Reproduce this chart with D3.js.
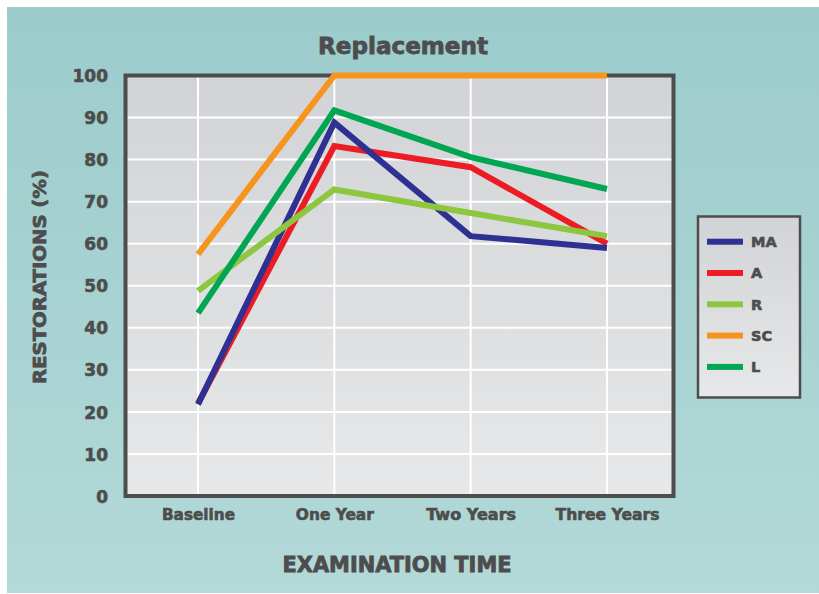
<!DOCTYPE html>
<html>
<head>
<meta charset="utf-8">
<script src="https://cdn.jsdelivr.net/npm/d3@7"></script>
<style>
  html, body { margin: 0; padding: 0; background: #ffffff; }
  svg { display: block; }
  text { font-family: "DejaVu Sans", "Liberation Sans", sans-serif; font-weight: bold; fill: #4d4d4d; stroke: #4d4d4d; stroke-width: 0.6px; }
</style>
</head>
<body>
<svg id="chart" width="819" height="594"></svg>
<script>
// ---- data ----
const categories = ["Baseline", "One Year", "Two Years", "Three Years"];
const seriesNames = ["MA", "A", "R", "SC", "L"];
const seriesColors = ["#2e3192", "#ed1c24", "#8dc63f", "#f7941d", "#00a651"];
const valuesMA = [21.8, 88.8, 61.8, 59];
const valuesA  = [22, 83.2, 78.2, 60];
const valuesR  = [48.8, 72.9, 67.3, 61.8];
const valuesSC = [57.5, 100, 100, 100];
const valuesL  = [43.5, 91.7, 80.6, 73];
const yTicks = [0, 10, 20, 30, 40, 50, 60, 70, 80, 90, 100];
const titleText = "Replacement";
const xTitle = "EXAMINATION TIME";
const yTitle = "RESTORATIONS (%)";

const seriesValues = [valuesMA, valuesA, valuesR, valuesSC, valuesL];
const series = seriesNames.map((n, i) => ({ name: n, color: seriesColors[i], values: seriesValues[i] }));

// ---- layout ----
const svg = d3.select("#chart");
const frame = { left: 125.5, right: 673.5 };
const x = d3.scalePoint().domain(categories).range([198, 607]);
const y = d3.scaleLinear().domain([0, 100]).range([496, 75.5]);

const defs = svg.append("defs");
const g1 = defs.append("linearGradient").attr("id", "bgGrad").attr("x1", 0).attr("y1", 0).attr("x2", 0).attr("y2", 1);
g1.append("stop").attr("offset", "0%").attr("stop-color", "#9bcccb");
g1.append("stop").attr("offset", "100%").attr("stop-color", "#b3d9d8");
const g2 = defs.append("linearGradient").attr("id", "plotGrad").attr("x1", 0).attr("y1", 0).attr("x2", 0).attr("y2", 1);
g2.append("stop").attr("offset", "0%").attr("stop-color", "#d1d3d6");
g2.append("stop").attr("offset", "100%").attr("stop-color", "#e7e8e9");

// outer panel
svg.append("rect").attr("x", 7).attr("y", 7).attr("width", 812).attr("height", 586).attr("fill", "url(#bgGrad)");

// plot background
svg.append("rect")
  .attr("x", frame.left).attr("y", y(100))
  .attr("width", frame.right - frame.left).attr("height", y(0) - y(100))
  .attr("fill", "url(#plotGrad)");

// gridlines
svg.append("g").selectAll("line.h").data(yTicks.filter(t => t > 0 && t < 100)).join("line")
  .attr("x1", frame.left).attr("x2", frame.right)
  .attr("y1", d => y(d)).attr("y2", d => y(d))
  .attr("stroke", "#ffffff").attr("stroke-width", 2);
svg.append("g").selectAll("line.v").data(categories).join("line")
  .attr("x1", d => x(d)).attr("x2", d => x(d))
  .attr("y1", y(100)).attr("y2", y(0))
  .attr("stroke", "#ffffff").attr("stroke-width", 2);

// frame
svg.append("rect")
  .attr("x", frame.left).attr("y", y(100))
  .attr("width", frame.right - frame.left).attr("height", y(0) - y(100))
  .attr("fill", "none").attr("stroke", "#4d4d4d").attr("stroke-width", 4);

// y axis labels
const yAxis = d3.axisLeft(y).tickValues(yTicks).tickSize(0).tickPadding(0);
const yg = svg.append("g").attr("transform", `translate(108,0)`).call(yAxis);
yg.select(".domain").remove();
yg.selectAll("text").attr("font-size", 17).attr("fill", "#4d4d4d")
  .style("font-family", '"DejaVu Sans", sans-serif').style("font-weight", "bold").attr("dy", "0.36em").attr("x", 0);

// x axis labels
const xAxis = d3.axisBottom(x).tickSize(0).tickPadding(0);
const xg = svg.append("g").attr("transform", `translate(0,509)`).call(xAxis);
xg.select(".domain").remove();
xg.selectAll("text").attr("font-size", 15).attr("fill", "#4d4d4d")
  .style("font-family", '"DejaVu Sans", sans-serif').style("font-weight", "bold").attr("dy", "0.71em").attr("y", 0);
xg.selectAll(".tick text").each(function(d) {
  const widths = { "Baseline": 73, "One Year": 78, "Two Years": 90, "Three Years": 104 };
  d3.select(this).attr("textLength", widths[d]).attr("lengthAdjust", "spacingAndGlyphs");
});

// lines
const line = d3.line().x((d, i) => x(categories[i])).y(d => y(d));
const drawOrder = ["A", "MA", "R", "L", "SC"];
svg.append("g").selectAll("path").data(drawOrder.map(n => series.find(s => s.name === n))).join("path")
  .attr("d", d => line(d.values))
  .attr("fill", "none").attr("stroke", d => d.color).attr("stroke-width", 6)
  .attr("stroke-linejoin", "miter").attr("stroke-linecap", "butt");

// title
svg.append("text").attr("x", 403).attr("y", 54).attr("text-anchor", "middle")
  .attr("font-size", 23).attr("textLength", 170).attr("lengthAdjust", "spacingAndGlyphs")
  .style("stroke-width", "0.8px")
  .text(titleText);

// axis titles
svg.append("text").attr("x", 397).attr("y", 572).attr("text-anchor", "middle")
  .attr("font-size", 20.5).attr("textLength", 229).attr("lengthAdjust", "spacingAndGlyphs")
  .style("stroke-width", "0.8px").text(xTitle);
svg.append("text").attr("transform", "translate(46,277) rotate(-90)").attr("text-anchor", "middle")
  .attr("font-size", 18.5).attr("textLength", 214).attr("lengthAdjust", "spacingAndGlyphs")
  .style("stroke-width", "0.8px").text(yTitle);

// legend
const leg = svg.append("g");
leg.append("rect").attr("x", 698).attr("y", 216.5).attr("width", 102).attr("height", 181)
  .attr("fill", "url(#plotGrad)").attr("stroke", "#4d4d4d").attr("stroke-width", 2.5);
const items = leg.selectAll("g.item").data(series).join("g")
  .attr("transform", (d, i) => `translate(0,${241.7 + i * 31.3})`);
items.append("rect").attr("x", 707).attr("y", -3).attr("width", 36).attr("height", 6).attr("fill", d => d.color);
items.append("text").attr("x", 751).attr("y", 0).attr("dy", "0.36em").attr("font-size", 14.5).text(d => d.name);
</script>
</body>
</html>
